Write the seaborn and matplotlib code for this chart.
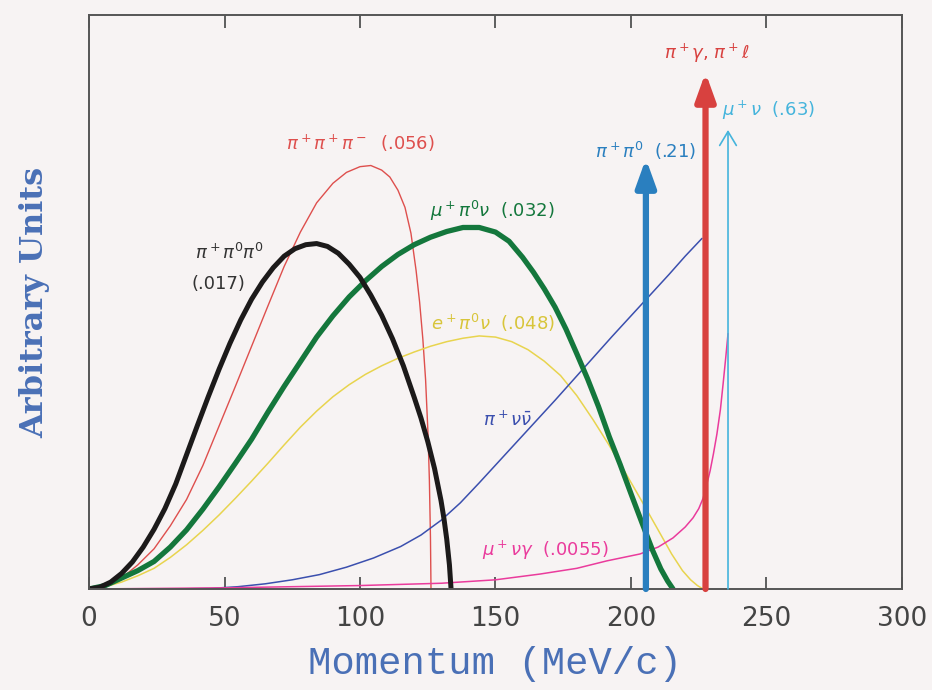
import numpy as np
import pandas as pd
import seaborn as sns
import matplotlib.pyplot as plt

# K+ decay momentum spectra
mom_3pi_c = [0, 6, 12, 18, 24, 30, 36, 42, 48, 54, 60, 66, 72, 78, 84, 90, 95, 100, 104,
             108, 111, 114, 116.6, 118.8, 120.7, 122, 123.2, 124.2, 125.1, 125.6, 126.0, 126.2]
val_3pi_c = [0, 0.5, 1.9, 4.2, 7.0, 11.0, 15.6, 21.5, 28.4, 35.3, 42.3, 49.3, 56.2, 62.2, 67.3,
             70.7, 72.6, 73.6, 73.8, 73.0, 71.8, 69.5, 66.5, 62.0, 55.5, 50.0, 43.5, 36.5, 27.0,
             19.0, 9.0, 0]

mom_3pi_n = [0, 4, 8, 12, 16, 20, 24, 28, 32, 36, 40, 44, 48, 52, 56, 60, 64, 68, 72, 76, 80,
             84, 88, 92, 96, 100, 104, 108, 112, 116, 120, 122.5, 125, 127.5, 129.9, 131, 132,
             133, 133.6]
val_3pi_n = [0, 0.3, 1.2, 2.7, 4.7, 7.3, 10.4, 14.0, 18.3, 23.4, 28.5, 33.5, 38.3, 42.8, 46.9,
             50.5, 53.5, 56.0, 58.0, 59.3, 60.0, 60.2, 59.7, 58.5, 56.6, 54.3, 51.2, 47.7, 43.6,
             38.9, 33.4, 29.8, 25.7, 21.0, 15.4, 12.2, 8.7, 4.2, 0]

mom_km3 = [0, 6, 12, 18, 24, 30, 36, 42, 48, 54, 60, 66, 72, 78, 84, 90, 96, 102, 108, 114,
           120, 126, 132, 138, 144, 150, 155, 160, 164, 168, 172, 176, 180, 184, 188, 192, 196,
           200, 204, 208, 211, 213.5, 215.5]
val_km3 = [0, 0.6, 1.9, 3.2, 4.8, 7.3, 10.3, 13.9, 17.8, 21.9, 26.1, 30.8, 35.3, 39.6, 43.9,
           47.6, 50.9, 53.7, 56.2, 58.3, 60.0, 61.3, 62.3, 63.0, 63.0, 62.2, 60.6, 57.8, 55.2,
           52.3, 49.1, 45.3, 41.0, 36.6, 31.8, 26.5, 21.7, 16.6, 11.6, 6.7, 3.5, 1.4, 0]

mom_ke3 = [0, 6, 12, 18, 24, 30, 36, 42, 48, 54, 60, 66, 72, 78, 84, 90, 96, 102, 108, 114,
           120, 126, 132, 138, 144, 150, 156, 162, 168, 174, 180, 186, 192, 198, 204, 210, 215,
           219, 222, 224.5, 226.6]
val_ke3 = [0, 0.4, 1.2, 2.3, 3.6, 5.5, 7.7, 10.2, 12.9, 15.8, 18.8, 21.9, 25.1, 28.2, 31.0,
           33.5, 35.6, 37.4, 38.9, 40.2, 41.3, 42.3, 43.1, 43.7, 44.1, 43.9, 43.1, 41.7, 39.7,
           37.2, 33.7, 29.5, 25.0, 20.2, 15.3, 10.3, 6.1, 3.2, 1.6, 0.6, 0]

mom_pnn = [0, 30, 45, 55, 65, 75, 85, 95, 105, 115, 122.5, 130, 137, 144, 151, 158, 165, 172,
           179, 186, 193, 200, 207, 214, 220, 226.2]
val_pnn = [0, 0, 0.1, 0.4, 0.9, 1.6, 2.5, 3.8, 5.4, 7.4, 9.4, 12.0, 15.0, 18.5, 22.1, 25.7,
           29.3, 32.9, 36.6, 40.3, 44.0, 47.6, 51.2, 54.8, 58.0, 61.1]

mom_mng = [0, 50, 100, 130, 150, 166.4, 180, 191.1, 203.3, 210, 215.5, 220, 222.9, 225, 226.6,
           228, 229.2, 230.4, 231.7, 233, 234, 235, 235.8]
val_mng = [0, 0.2, 0.6, 1.0, 1.6, 2.6, 3.6, 4.9, 6.1, 7.3, 8.9, 10.8, 12.4, 14.0, 15.8,
           18.3, 20.6, 23.5, 27, 31.3, 35.8, 40.5, 44.5]

# two-body lines (momentum, arrow height)
line_mom = [205.5, 227.5, 235.8]
line_top = [75, 90, 80]

bg = '#f7f3f3'
sns.set_theme(style='white')
plt.rcParams['mathtext.fontset'] = 'dejavusans'
plt.rcParams['font.family'] = ['DejaVu Sans']

fig = plt.figure(figsize=(9.32, 6.9), dpi=100, facecolor=bg)
ax = fig.add_axes([0.0955, 0.1464, 0.8723, 0.8316])
ax.set_facecolor(bg)

curves = [
    (mom_3pi_c, val_3pi_c, '#de4f4d', 1.0),
    (mom_ke3, val_ke3, '#e8d44e', 1.1),
    (mom_pnn, val_pnn, '#3b4fae', 1.1),
    (mom_mng, val_mng, '#ea3b9c', 1.1),
    (mom_km3, val_km3, '#14773c', 3.8),
    (mom_3pi_n, val_3pi_n, '#1c1a1a', 3.6),
]
for m, v, c, lw in curves:
    df = pd.DataFrame({'p': m, 'y': v})
    sns.lineplot(data=df, x='p', y='y', color=c, lw=lw, ax=ax,
                 estimator=None, sort=False, solid_capstyle='round')

# monochromatic lines as arrows
ax.annotate('', xy=(line_mom[0], line_top[0]), xytext=(line_mom[0], 0),
            arrowprops=dict(arrowstyle='-|>,head_length=0.75,head_width=0.27', color='#2a7fbf',
                            lw=4.5, mutation_scale=22, shrinkA=0, shrinkB=0))
ax.annotate('', xy=(line_mom[1], line_top[1]), xytext=(line_mom[1], 0),
            arrowprops=dict(arrowstyle='-|>,head_length=0.75,head_width=0.27', color='#d8413f',
                            lw=4.5, mutation_scale=22, shrinkA=0, shrinkB=0))
ax.annotate('', xy=(line_mom[2], line_top[2]), xytext=(line_mom[2], 0),
            arrowprops=dict(arrowstyle='->,head_length=0.5,head_width=0.3', color='#45b4dc',
                            lw=1.2, mutation_scale=20, shrinkA=0, shrinkB=0))

fs = 13
ax.text(100, 77.7, r'$\pi^+\pi^+\pi^-$  (.056)', color='#de4f4d', fontsize=fs, ha='center', va='center')
ax.text(39, 58.5, r'$\pi^+\pi^0\pi^0$', color='#333333', fontsize=fs, ha='left', va='center')
ax.text(38, 53.2, '(.017)', color='#333333', fontsize=fs, ha='left', va='center')
ax.text(148.7, 65.8, r'$\mu^+\pi^0\nu$  (.032)', color='#14773c', fontsize=fs, ha='center', va='center')
ax.text(149, 46.4, r'$e^+\pi^0\nu$  (.048)', color='#d8c53a', fontsize=fs, ha='center', va='center')
ax.text(154.6, 29.5, r'$\pi^+\nu\bar{\nu}$', color='#3b4fae', fontsize=fs, ha='center', va='center')
ax.text(168.3, 6.8, r'$\mu^+\nu\gamma$  (.0055)', color='#ea3b9c', fontsize=fs, ha='center', va='center')
ax.text(205.5, 76.4, r'$\pi^+\pi^0$  (.21)', color='#2a7fbf', fontsize=fs, ha='center', va='center')
ax.text(227.9, 93.4, r'$\pi^+\gamma$, $\pi^+\ell$', color='#d8413f', fontsize=fs, ha='center', va='center')
ax.text(233.6, 83.4, r'$\mu^+\nu$  (.63)', color='#45b4dc', fontsize=fs, ha='left', va='center')

ax.set_xlim(0, 300)
ax.set_ylim(0, 100)
ax.set_xticks(range(0, 301, 50))
ax.set_yticks([])
ax.tick_params(axis='x', direction='in', length=9, width=1.2, colors='#444444',
               labelsize=19, pad=12, top=True, bottom=True)
for s in ax.spines.values():
    s.set_color('#555555')
    s.set_linewidth(1.4)

ax.set_xlabel('Momentum (MeV/c)', family='Liberation Mono', fontsize=28,
              color='#4a70b6', labelpad=10)
ax.set_ylabel('Arbitrary Units', family='DejaVu Serif', fontweight='bold', fontsize=23,
              color='#4a70b6', labelpad=28)

fig.savefig('out.png', dpi=100, facecolor=bg)
